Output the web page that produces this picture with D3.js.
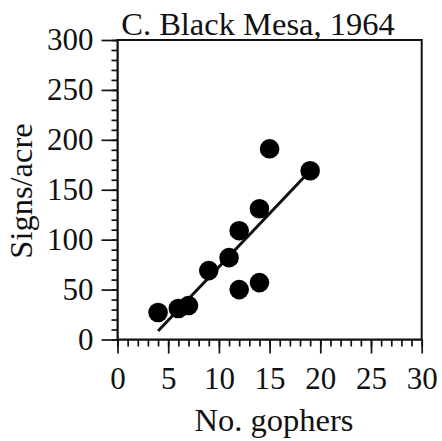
<!DOCTYPE html>
<html>
<head>
<meta charset="utf-8">
<script src="https://cdn.jsdelivr.net/npm/d3@7"></script>
<style>
html,body{margin:0;padding:0;background:#fff;}
svg{display:block;}
</style>
</head>
<body>
<svg id="chart" width="442" height="441"></svg>
<script>
const gophers = [4, 6, 7, 9, 11, 12, 12, 14, 14, 15, 19];
const signs   = [27, 31, 34, 69, 82, 109, 50, 131, 57, 191, 169];
const fitX = [4, 19];
const fitY = [8.5, 169];
const xTicks = [0, 5, 10, 15, 20, 25, 30];
const yTicks = [0, 50, 100, 150, 200, 250, 300];
const title = "C. Black Mesa, 1964";
const xLabel = "No. gophers";
const yLabel = "Signs/acre";

const svg = d3.select("#chart");
const L = 117.5, R = 421.7, T = 40, B = 339.5;
const x = d3.scaleLinear().domain([0, 30]).range([L, R]);
const y = d3.scaleLinear().domain([0, 300]).range([B, T]);
const fs = "31px";
const fsL = "32.5px";
const font = '"Liberation Serif"';
const ink = "#111";

// minor ticks
svg.append("g").attr("transform", `translate(0,${B})`)
  .call(d3.axisBottom(x).tickValues(d3.range(0, 31, 1)).tickSize(7).tickFormat(""))
  .call(g => g.select(".domain").remove());
svg.append("g").attr("transform", `translate(${L},0)`)
  .call(d3.axisLeft(y).tickValues(d3.range(0, 301, 10)).tickSize(6).tickFormat(""))
  .call(g => g.select(".domain").remove());

// major axes
const xa = svg.append("g").attr("transform", `translate(0,${B})`)
  .call(d3.axisBottom(x).tickValues(xTicks).tickSize(14).tickPadding(13).tickSizeOuter(0));
const ya = svg.append("g").attr("transform", `translate(${L},0)`)
  .call(d3.axisLeft(y).tickValues(yTicks).tickSize(16).tickPadding(8).tickSizeOuter(0));
[xa, ya].forEach(g => {
  g.selectAll("text").style("font-size", fs).style("font-family", font).attr("fill", ink);
});
svg.selectAll("g .tick line").attr("stroke", ink).attr("stroke-width", 1.7);

// frame
svg.append("rect").attr("x", L).attr("y", T).attr("width", R - L).attr("height", B - T)
  .attr("fill", "none").attr("stroke", ink).attr("stroke-width", 2);

// fit line
svg.append("line")
  .attr("x1", x(fitX[0])).attr("y1", y(fitY[0]))
  .attr("x2", x(fitX[1])).attr("y2", y(fitY[1]))
  .attr("stroke", ink).attr("stroke-width", 3);

// points
svg.append("g").selectAll("circle").data(gophers.map((g, i) => [g, signs[i]]))
  .join("circle")
  .attr("cx", d => x(d[0])).attr("cy", d => y(d[1])).attr("r", 9.8)
  .attr("fill", "#000");

// title and labels
const lab = (sel) => sel.style("font-size", fsL).style("font-family", font).attr("fill", ink).attr("text-anchor", "middle");
svg.append("text").attr("x", 258).attr("y", 35).call(lab).text(title);
svg.append("text").attr("x", 274).attr("y", 431).call(lab).text(xLabel);
svg.append("text").attr("transform", "translate(32,191) rotate(-90)").call(lab).text(yLabel);
</script>
</body>
</html>
